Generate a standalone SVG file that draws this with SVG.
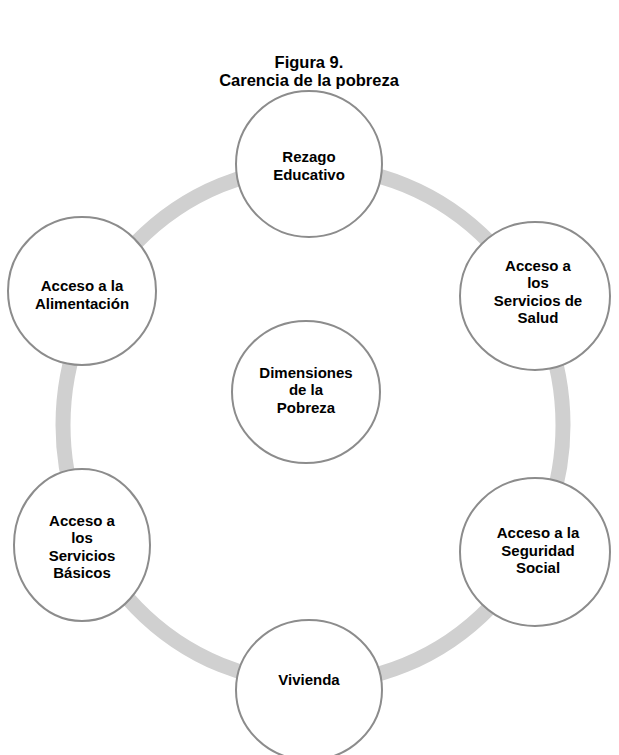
<svg xmlns="http://www.w3.org/2000/svg" width="619" height="755" viewBox="0 0 619 755">
<style>
.title{font-family:"Liberation Sans",Arial,sans-serif;font-weight:bold;font-size:16.5px;fill:#000;text-anchor:middle}
.lbl{font-family:"Liberation Sans",Arial,sans-serif;font-weight:bold;font-size:15px;fill:#000;text-anchor:middle}
.node{fill:#fff;stroke:#8c8c8c;stroke-width:2}
.ring{fill:none;stroke:#d0d0d0;stroke-width:15}
</style>
<rect width="619" height="755" fill="#fff"/>
<text class="title" x="309" y="68">Figura 9.</text>
<text class="title" x="309" y="86">Carencia de la pobreza</text>
<g id="connectors">
<ellipse class="ring" cx="313" cy="425" rx="250" ry="258"/>
</g>
<g id="center">
<ellipse class="node" cx="306" cy="392" rx="74" ry="71"/>
<text class="lbl" x="306" y="378">Dimensiones</text>
<text class="lbl" x="306" y="395">de la</text>
<text class="lbl" x="306" y="413">Pobreza</text>
</g>
<g id="rezago">
<ellipse class="node" cx="309" cy="164" rx="73" ry="73"/>
<text class="lbl" x="309" y="162">Rezago</text>
<text class="lbl" x="309" y="180">Educativo</text>
</g>
<g id="salud">
<ellipse class="node" cx="535" cy="296" rx="75" ry="74"/>
<text class="lbl" x="538" y="271">Acceso a</text>
<text class="lbl" x="538" y="288">los</text>
<text class="lbl" x="538" y="306">Servicios de</text>
<text class="lbl" x="538" y="323">Salud</text>
</g>
<g id="seguridad">
<ellipse class="node" cx="535" cy="552" rx="75" ry="74"/>
<text class="lbl" x="538" y="538">Acceso a la</text>
<text class="lbl" x="538" y="556">Seguridad</text>
<text class="lbl" x="538" y="573">Social</text>
</g>
<g id="vivienda">
<ellipse class="node" cx="309" cy="690" rx="73" ry="70"/>
<text class="lbl" x="309" y="685">Vivienda</text>
</g>
<g id="basicos">
<ellipse class="node" cx="82" cy="545" rx="68" ry="76"/>
<text class="lbl" x="82" y="526">Acceso a</text>
<text class="lbl" x="82" y="543">los</text>
<text class="lbl" x="82" y="561">Servicios</text>
<text class="lbl" x="82" y="578">Básicos</text>
</g>
<g id="alimentacion">
<ellipse class="node" cx="82" cy="291" rx="74" ry="74"/>
<text class="lbl" x="82" y="291">Acceso a la</text>
<text class="lbl" x="82" y="309">Alimentación</text>
</g>
</svg>
